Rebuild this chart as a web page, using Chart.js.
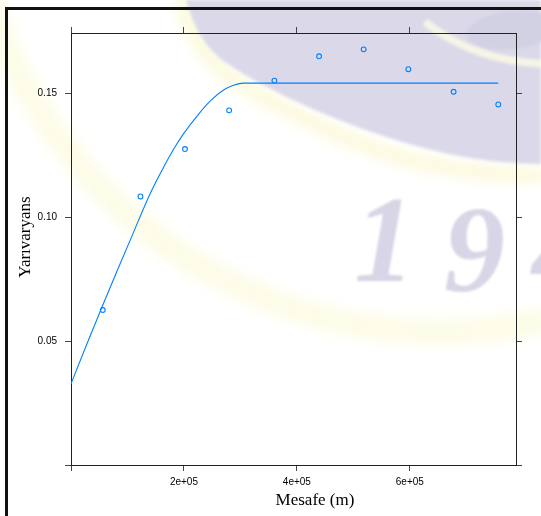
<!DOCTYPE html>
<html>
<head>
<meta charset="utf-8">
<script src="https://cdn.jsdelivr.net/npm/chart.js@4"></script>
<style>
  html, body { margin: 0; padding: 0; background: #fff; }
  #grafik { display: block; }
</style>
</head>
<body>
<canvas id="grafik" width="541" height="516"></canvas>
<script>
// deneysel variogram noktalari
const mesafeNoktalar = [56300, 123000, 201800, 280000, 360200, 439300, 518200, 597300, 677500, 756600];
const yariVaryans = [0.0625, 0.1083, 0.1274, 0.143, 0.155, 0.1648, 0.1676, 0.1596, 0.1505, 0.1454];

// model egrisi (resimden okunan noktalar)
const modelMesafe = [0, 27400, 54900, 82300, 107100, 140700, 163700, 181400, 199100, 223900, 247200, 270200, 287800, 305500, 756600];
const modelDeger = [0.0327, 0.0484, 0.0637, 0.0786, 0.0919, 0.1097, 0.12, 0.1272, 0.1335, 0.1409, 0.1469, 0.1512, 0.1531, 0.154, 0.154];

const xTikler = [0, 200000, 400000, 600000];
const yTikler = [0, 0.05, 0.1, 0.15];

const xMax = 788000;
const yMax = 0.1742;
const mavi = "#0080ff";

function xEtiket(v) {
  if (v === 0) return "";
  const [m, e] = v.toExponential(0).split("e");
  const us = Math.abs(parseInt(e, 10)).toString().padStart(2, "0");
  return m + "e" + (e[0] === "-" ? "-" : "+") + us;
}

function yEtiket(v) {
  if (v === 0) return "";
  return v.toFixed(2);
}

// arka plandaki filigran
const filigran = {
  id: "filigran",
  beforeDraw(chart) {
    const c = chart.ctx;
    c.save();
    c.fillStyle = "#ffffff";
    c.fillRect(0, 0, chart.width, chart.height);

    // soluk sari halka
    c.filter = "blur(6px)";
    c.strokeStyle = "rgba(252, 251, 226, 0.8)";
    c.lineWidth = 26;
    c.beginPath();
    c.arc(440, -140, 472, (68 * Math.PI) / 180, (168 * Math.PI) / 180);
    c.stroke();

    // lila bolgenin kenarindaki sari parilti
    c.strokeStyle = "rgba(252, 250, 218, 0.9)";
    c.lineWidth = 16;
    c.beginPath();
    c.moveTo(180, -4);
    c.bezierCurveTo(190, 30, 205, 58, 228, 75);
    c.bezierCurveTo(270, 103, 330, 133, 380, 151);
    c.bezierCurveTo(430, 168, 490, 176, 545, 175);
    c.stroke();
    c.filter = "blur(1.5px)";

    // lila bolge
    c.fillStyle = "rgb(219, 217, 233)";
    c.beginPath();
    c.moveTo(186, 0);
    c.lineTo(541, 0);
    c.lineTo(541, 164);
    c.bezierCurveTo(480, 164, 420, 150, 360, 128);
    c.bezierCurveTo(300, 106, 250, 80, 222, 60);
    c.bezierCurveTo(200, 43, 192, 20, 186, 0);
    c.closePath();
    c.fill();

    // sag ustteki koyu lila leke ve sari serit
    c.fillStyle = "rgb(210, 208, 227)";
    c.beginPath();
    c.ellipse(512, 30, 46, 19, -0.1, 0, Math.PI * 2);
    c.fill();
    c.strokeStyle = "rgba(248, 247, 230, 0.9)";
    c.lineWidth = 8;
    c.beginPath();
    c.moveTo(425, 22);
    c.bezierCurveTo(460, 50, 500, 62, 545, 64);
    c.stroke();

    // buyuk rakamlar
    c.filter = "blur(0.8px)";
    c.fillStyle = "rgb(216, 214, 230)";
    c.font = "bold italic 122px 'Liberation Serif'";
    c.textBaseline = "alphabetic";
    c.fillText("1", 354, 281);
    c.fillText("9", 444, 291);
    c.fillText("4", 532, 291);
    c.restore();
  },
  afterDraw(chart) {
    const c = chart.ctx;
    c.save();
    // dis cerceve
    c.strokeStyle = "#111";
    c.lineWidth = 3;
    c.strokeRect(6.5, 8.5, 700, 700);

    // eksen basliklari
    c.fillStyle = "#000";
    c.font = "17px 'Liberation Serif'";
    c.textAlign = "center";
    c.textBaseline = "middle";
    c.fillText("Mesafe (m)", 315, 501);
    c.translate(26, 237);
    c.rotate(-Math.PI / 2);
    c.fillText("Yarıvaryans", 0, 0);
    c.restore();
  },
};

function tikleriKur(liste) {
  return function (scale) {
    scale.ticks = liste.map((v) => ({ value: v }));
  };
}

const izgara = {
  drawOnChartArea: false,
  drawTicks: true,
  tickLength: 6,
  color: "#444",
};
const kenar = { display: true, color: "#222", width: 1 };
const tikYazi = { family: "'Liberation Sans', Arial, sans-serif", size: 10 };

new Chart(document.getElementById("grafik").getContext("2d"), {
  type: "scatter",
  data: {
    datasets: [
      {
        type: "line",
        label: "model",
        data: modelMesafe.map((x, i) => ({ x: x, y: modelDeger[i] })),
        borderColor: mavi,
        borderWidth: 1.1,
        pointRadius: 0,
        fill: false,
        cubicInterpolationMode: "monotone",
      },
      {
        label: "gamma",
        data: mesafeNoktalar.map((x, i) => ({ x: x, y: yariVaryans[i] })),
        showLine: false,
        pointStyle: "circle",
        pointRadius: 2.4,
        borderWidth: 1.1,
        borderColor: mavi,
        backgroundColor: "rgba(0,0,0,0)",
      },
    ],
  },
  plugins: [filigran],
  options: {
    responsive: false,
    animation: false,
    layout: { padding: 0 },
    plugins: {
      legend: { display: false },
      tooltip: { enabled: false },
    },
    scales: {
      x: {
        type: "linear",
        position: "bottom",
        min: 0,
        max: xMax,
        afterBuildTicks: tikleriKur(xTikler),
        afterFit: (s) => { s.height = 51; },
        grid: izgara,
        border: kenar,
        ticks: { callback: xEtiket, font: tikYazi, color: "#000", padding: 5, maxRotation: 0, autoSkip: false },
      },
      x2: {
        type: "linear",
        position: "top",
        min: 0,
        max: xMax,
        afterBuildTicks: tikleriKur(xTikler),
        afterFit: (s) => { s.height = 33; },
        grid: izgara,
        border: kenar,
        ticks: { display: false },
      },
      y: {
        type: "linear",
        position: "left",
        min: 0,
        max: yMax,
        afterBuildTicks: tikleriKur(yTikler),
        afterFit: (s) => { s.width = 71; },
        grid: izgara,
        border: kenar,
        ticks: { callback: yEtiket, font: tikYazi, color: "#000", padding: 8, autoSkip: false },
      },
      y2: {
        type: "linear",
        position: "right",
        min: 0,
        max: yMax,
        afterBuildTicks: tikleriKur(yTikler),
        afterFit: (s) => { s.width = 25; },
        grid: izgara,
        border: kenar,
        ticks: { display: false },
      },
    },
  },
});
</script>
</body>
</html>
